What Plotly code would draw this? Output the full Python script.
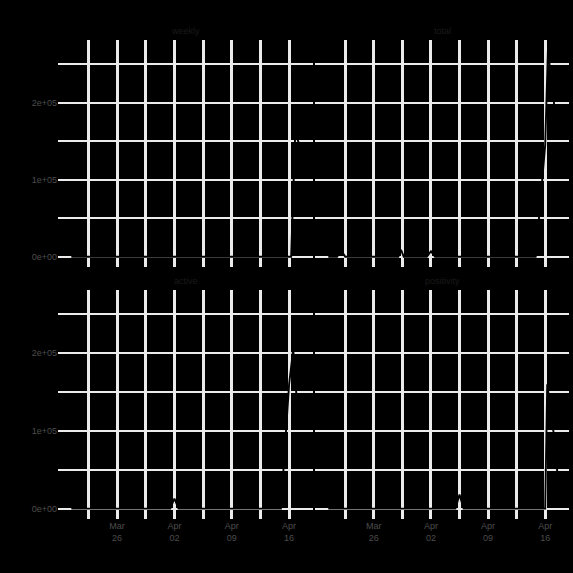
import plotly.graph_objects as go

# ---- data ----
panel_titles = ["weekly", "total", "active", "positivity"]

dates_a = ["2020-03-20 10:00", "2020-04-16 06:00", "2020-04-16 18:00", "2020-04-17 06:00", "2020-04-17 12:00"]
vals_a = [0, 0, 162000, 145000, 130000]

dates_b = ["2020-03-20 10:00", "2020-03-21 12:00", "2020-03-22 00:00", "2020-03-22 12:00",
           "2020-03-29 00:00", "2020-03-29 08:00", "2020-03-29 16:00",
           "2020-04-01 12:00", "2020-04-02 00:00", "2020-04-02 12:00",
           "2020-04-14 20:00", "2020-04-16 00:00", "2020-04-16 08:00", "2020-04-17 00:00", "2020-04-17 12:00"]
vals_b = [0, 0, 8000, 0,
          0, 9000, 0,
          0, 7000, 0,
          0, 145000, 268000, 210000, 160000]

dates_c = ["2020-03-20 10:00", "2020-04-01 12:00", "2020-04-02 00:00", "2020-04-02 12:00",
           "2020-04-15 00:00", "2020-04-16 00:00", "2020-04-16 12:00", "2020-04-17 00:00", "2020-04-17 12:00"]
vals_c = [0, 0, 13000, 0,
          0, 160000, 205000, 130000, 120000]

dates_d = ["2020-03-20 10:00", "2020-04-05 00:00", "2020-04-05 12:00", "2020-04-06 00:00",
           "2020-04-16 00:00", "2020-04-16 06:00", "2020-04-17 00:00", "2020-04-17 12:00"]
vals_d = [0, 0, 18000, 0,
          0, 160000, 100000, 45000]

x_tick_vals = ["2020-03-26", "2020-04-02", "2020-04-09", "2020-04-16"]
x_tick_text = ["Mar<br>26", "Apr<br>02", "Apr<br>09", "Apr<br>16"]
x_minor_vals = ["2020-03-22 12:00", "2020-03-29 12:00", "2020-04-05 12:00", "2020-04-12 12:00"]
y_tick_vals = [0, 100000, 200000]
y_tick_text = ["0e+00", "1e+05", "2e+05"]
y_minor_vals = [50000, 150000, 250000]

series = [(dates_a, vals_a), (dates_b, vals_b), (dates_c, vals_c), (dates_d, vals_d)]

# ---- layout geometry ----
W = H = 573
x_doms = [[58 / W, 313 / W], [315 / W, 569 / W]]
y_doms = [[1 - 267 / H, 1 - 40 / H], [1 - 519 / H, 1 - 290 / H]]

GRID = "#EBEBEB"
TXT = "rgba(77,77,77,1)"
STRIP = "rgba(26,26,26,1)"
FONT = "Liberation Sans, Arial"

fig = go.Figure()
annotations = []
for i, (dts, vals) in enumerate(series):
    r, c = divmod(i, 2)
    n = i + 1
    xa = "x" if n == 1 else f"x{n}"
    ya = "y" if n == 1 else f"y{n}"
    fig.add_trace(go.Scatter(x=dts, y=vals, mode="lines",
                             line=dict(color="black", width=1.9),
                             xaxis=xa, yaxis=ya, showlegend=False,
                             hoverinfo="x+y"))
    xkey = "xaxis" if n == 1 else f"xaxis{n}"
    ykey = "yaxis" if n == 1 else f"yaxis{n}"
    fig.layout[xkey] = dict(
        domain=x_doms[c], anchor=ya, type="date",
        range=["2020-03-18 19:00", "2020-04-18 22:00"],
        tickmode="array", tickvals=x_tick_vals,
        ticktext=x_tick_text if r == 1 else [""] * 4,
        showticklabels=(r == 1),
        tickfont=dict(color=TXT, size=9, family=FONT),
        ticks="",
        showgrid=True, gridcolor=GRID, gridwidth=2.6,
        minor=dict(tickvals=x_minor_vals, showgrid=True, gridcolor=GRID, gridwidth=2.6, ticks=""),
        zeroline=False, showline=False, fixedrange=True,
    )
    fig.layout[ykey] = dict(
        domain=y_doms[r], anchor=xa,
        range=[-13400, 281300],
        tickmode="array", tickvals=y_tick_vals,
        ticktext=y_tick_text if c == 0 else [""] * 3,
        showticklabels=(c == 0),
        tickfont=dict(color=TXT, size=9, family=FONT),
        ticks="",
        showgrid=True, gridcolor=GRID, gridwidth=2,
        minor=dict(tickvals=y_minor_vals, showgrid=True, gridcolor=GRID, gridwidth=2, ticks=""),
        zeroline=False, showline=False, fixedrange=True,
    )
    annotations.append(dict(
        text=panel_titles[i], xref="paper", yref="paper",
        x=(x_doms[c][0] + x_doms[c][1]) / 2, y=y_doms[r][1],
        xanchor="center", yanchor="bottom", yshift=2, showarrow=False,
        font=dict(color=STRIP, size=9, family=FONT),
    ))

fig.update_layout(
    width=W, height=H,
    margin=dict(l=0, r=0, t=0, b=0),
    paper_bgcolor="black", plot_bgcolor="black",
    annotations=annotations,
    showlegend=False,
)

fig.write_html(
    "out.html",
    config={"displayModeBar": False},
    post_script="document.body.style.margin='0';document.body.style.background='black';",
)
